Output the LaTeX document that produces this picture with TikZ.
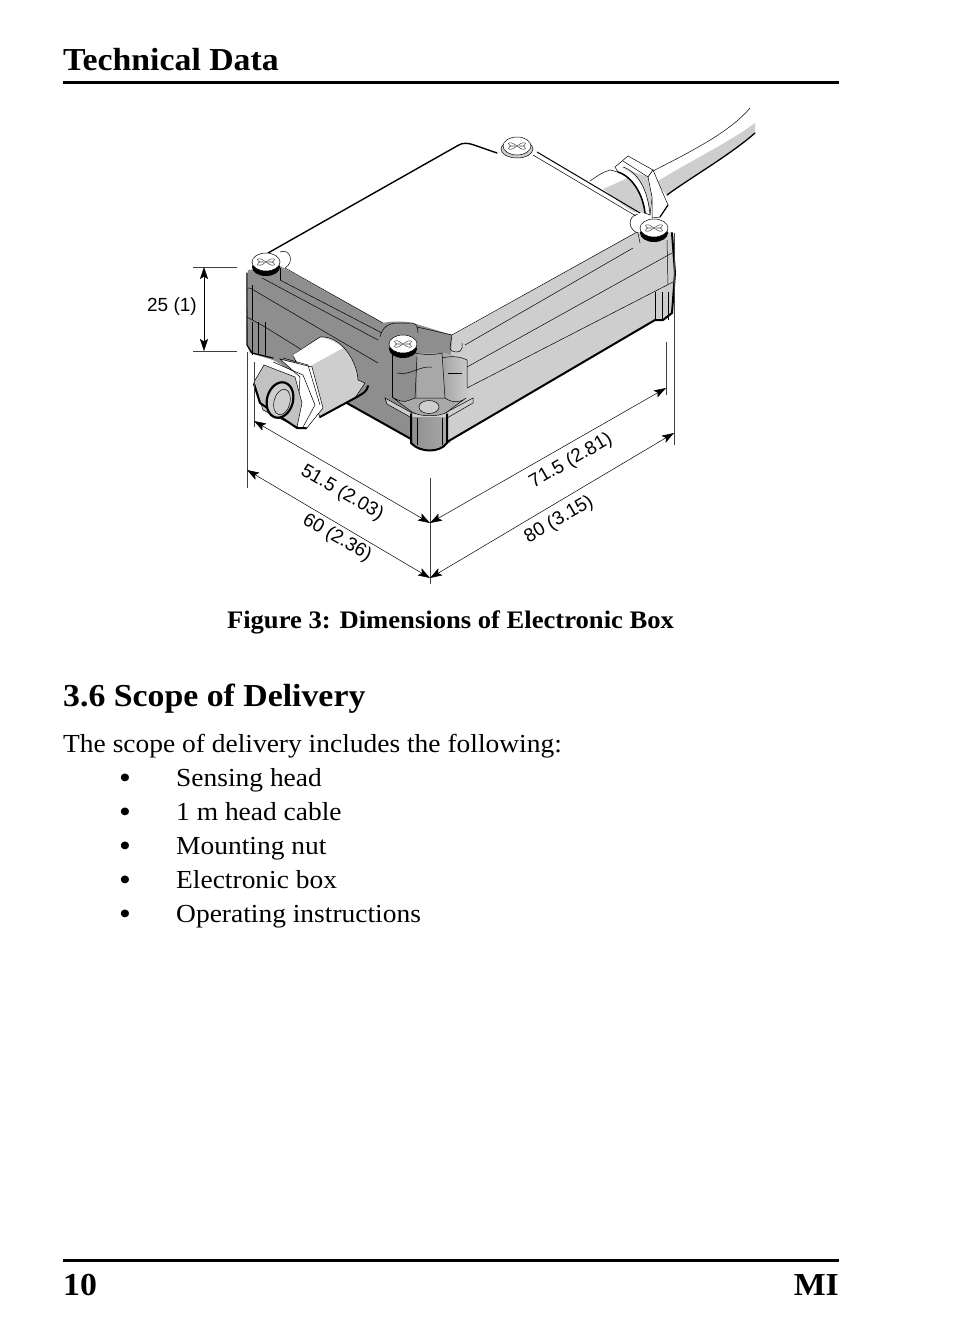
\documentclass[tikz,border=0pt]{standalone}
\usepackage{fontspec}
\setmainfont[FakeStretch=1.056]{Liberation Serif}
\newfontfamily\dimfont{Liberation Sans}
\usetikzlibrary{arrows.meta}
\definecolor{darkface}{HTML}{8E8E8E}
\definecolor{midface}{HTML}{A8A8A8}
\definecolor{lightface}{HTML}{CECECE}
\tikzset{
  thinline/.style={draw=black, line width=0.5pt},
  heavyline/.style={draw=black, line width=2pt, line cap=round, line join=round},
  dimline/.style={draw=black, line width=0.5pt, {Stealth[length=12pt,width=8pt,inset=2.5pt]}-{Stealth[length=12pt,width=8pt,inset=2.5pt]}},
  extline/.style={draw=black!75, line width=0.6pt},
  dimtext/.style={font=\dimfont\fontsize{19}{19}\selectfont, inner sep=0pt},
  pagetext/.style={font=\fontsize{26}{26}\selectfont, anchor=base west, inner sep=0pt},
  headtext/.style={font=\fontsize{32}{32}\selectfont\bfseries, anchor=base west, inner sep=0pt},
  screwtop/.pic={
    \draw[thinline, fill=white] (0,0) ellipse (14 and 9);
    \begin{scope}[yscale=0.68]
      \draw[thinline, draw=black!70] (0,0) .. controls (-10,-12) and (-12,2) .. (-2,0) .. controls (-12,-2) and (-10,12) .. (0,0);
      \draw[thinline, draw=black!70] (0,0) .. controls (10,-12) and (12,2) .. (2,0) .. controls (12,-2) and (10,12) .. (0,0);
    \end{scope}
  },
  screwhead/.pic={
    \fill[black] (0,5) ellipse (14 and 9);
    \pic {screwtop};
  },
  screwflat/.pic={
    \draw[thinline, fill=lightface] (0,3) ellipse (16 and 9);
    \pic {screwtop};
  }
}
\begin{document}
\begin{tikzpicture}[x=1pt,y=-1pt]
\useasboundingbox (0,0) rectangle (954,1323);
\fill[white] (0,0) rectangle (954,1323);

\fill[lightface] (655,183) .. controls (688,162) and (730,142) .. (755,123) -- (755,133) .. controls (730,155) and (690,178) .. (667,195) -- cycle;
\draw[thinline] (653,171) .. controls (690,152) and (730,132) .. (750,108);
\draw[heavyline, line width=1.3pt] (667,195) .. controls (690,178) and (730,155) .. (755,133);

\fill[lightface] (603,189) -- (628,178) -- (640,190) -- (645,213) -- (632,212) -- cycle;
\draw[thinline] (590,181) .. controls (597,176) and (603,172) .. (610,170) -- (618,172);
\draw[thinline, fill=white] (618,172) -- (615,167) -- (628,156) -- (653,170) -- (648,177) -- (652,197) -- (650,215) -- (645,213) .. controls (643,195) and (633,177) .. (618,172) -- cycle;
\fill[lightface] (623,168) .. controls (638,175) and (648,190) .. (649,212) -- (652,197) -- (648,177) -- cycle;
\draw[thinline, fill=white] (648,177) -- (653,170) -- (668,205) -- (660,217) -- (652,218) -- (652,197) -- cycle;
\draw[thinline] (623,161) -- (648,177);
\draw[thinline] (623,167) .. controls (638,172) and (648,190) .. (650,215);
\draw[heavyline, line width=1.5pt] (618,172) .. controls (633,177) and (643,195) .. (645,213);
\draw[heavyline, line width=1.2pt] (668,205) -- (660,217);

\fill[white] (268,253) -- (458,146) -- (497,151) -- (535,154) -- (640,216) -- (637,232) -- (450,337) -- (280,268) -- cycle;
\draw[heavyline, line width=1.4pt] (268,253) -- (457,146) .. controls (463,142) and (468,143) .. (474,145) -- (497,153);
\draw[thinline, line width=1pt] (537,152) -- (640,213);
\draw[thinline] (533,155) -- (636,216);

\fill[darkface] (248,270) -- (280,266) -- (383,323) .. controls (392,321) and (405,321) .. (413,323) -- (452,335) -- (450,443) -- (412,443) -- (412,440) -- (345,402) -- (273,360) -- (263,357) -- (250,353) -- (247,345) -- cycle;
\fill[lightface] (452,336) -- (637,232) -- (672,232) -- (675,273) -- (672,313) -- (663,320) -- (655,320) -- (447,442) -- cycle;
\fill[midface] (417,353) -- (445,353) -- (447,400) -- (417,400) -- cycle;
\shade[left color=midface, right color=lightface] (445,353) -- (467,360) -- (470,398) -- (447,410) -- cycle;

\draw[thinline] (285,268) -- (383,323);
\draw[thinline] (280,280) -- (382,333);
\draw[thinline] (262,278) -- (378,340);
\draw[thinline] (247,288) -- (250,288) -- (378,363);
\draw[thinline] (247,317) -- (265,327) -- (315,358);
\draw[thinline] (252,285) -- (252,320);
\draw[thinline] (280,268) -- (280,280);
\foreach \colx in {252,258,265}{
  \draw[thinline] (\colx,322) -- (\colx,355);
}
\draw[heavyline, line width=1.2pt] (247,273) -- (247,345) -- (252,353) -- (273,358);

\draw[thinline] (452,335) -- (637,232);
\draw[thinline] (465,345) -- (633,248);
\draw[thinline] (467,367) -- (672,253);
\draw[thinline] (467,388) -- (673,282);
\draw[thinline] (667,240) -- (668,285);
\foreach \colx in {655,662,668}{
  \draw[thinline] (\colx,292) -- (\colx,320);
}
\draw[heavyline] (672,233) -- (675,273) -- (672,313) -- (663,320) -- (655,320) -- (447,442);

\draw[thinline] (380,337) .. controls (382,328) and (388,323) .. (397,323) -- (413,323) .. controls (418,325) and (418,330) .. (418,333);
\draw[thinline] (417,327) -- (452,335) -- (450,347) .. controls (450,351) and (453,352) .. (456,352) .. controls (460,352) and (462,350) .. (462,348) -- (462,343);
\draw[thinline] (392,355) -- (392,397);
\draw[thinline] (417,357) -- (415,398);
\draw[thinline] (415,353) .. controls (425,355) and (435,355) .. (442,353) -- (445,398);
\draw[thinline] (442,358) .. controls (450,356) and (460,356) .. (467,360) -- (467,387);
\draw[thinline] (397,373) .. controls (410,376) and (418,366) .. (432,367);
\draw[thinline] (448,373) -- (462,373);

\draw[thinline, fill=lightface] (385,398) -- (412,413) -- (445,413) -- (473,398) -- (473,403) -- (447,418) -- (412,418) -- (387,404) -- cycle;
\draw[thinline, fill=midface] (392,397) .. controls (405,405) and (408,400) .. (415,398) -- (445,398) .. controls (452,403) and (460,403) .. (466,398) -- (447,412) .. controls (440,417) and (420,417) .. (412,412) -- cycle;
\draw[thinline, fill=lightface] (429,407) ellipse (10 and 6.5);
\shade[left color=darkface, right color=midface] (412,417) -- (447,417) -- (447,443) .. controls (440,453) and (420,453) .. (412,443) -- cycle;
\draw[heavyline] (345,402) -- (411,439);
\draw[heavyline] (411,414) -- (411,443) .. controls (420,453) and (440,453) .. (447,443) -- (447,414);
\draw[thinline] (417,418) -- (417,445);
\draw[thinline] (442,418) -- (442,445);

\draw[thinline, fill=lightface] (293,355) -- (320,337) .. controls (340,335) and (357,360) .. (358,380) -- (365,383) -- (355,398) -- (320,417) -- cycle;
\fill[white] (293,355) -- (320,338) .. controls (328,338) and (336,342) .. (343,348) -- (303,370) -- cycle;
\draw[heavyline] (320,417) -- (355,398) .. controls (362,394) and (367,392) .. (368,386);
\draw[thinline, fill=white] (280,359) -- (312,367) -- (323,408) -- (306,429) -- (297,427) -- (300,377) -- cycle;
\draw[thinline] (283,358) -- (308,365) -- (320,405);
\draw[thinline] (273,362) -- (303,375) -- (315,405) -- (303,427);
\draw[thinline, fill=midface!70] (254,382) -- (264,365) -- (295,377) -- (302,403) -- (297,427) -- (263,410) -- cycle;
\draw[heavyline] (254,384) -- (260,403) -- (297,428) -- (306,428);
\draw[heavyline, fill=lightface, line width=2.2pt, rotate around={-15:(280,400)}] (280,400) ellipse (13 and 18);
\draw[thinline, rotate around={-15:(282,402)}] (282,402) ellipse (8 and 13);

\pic (screwa) at (266,262) {screwhead};
\pic (screwb) at (517,146) {screwflat};
\pic (screwc) at (403,344) {screwhead};
\pic (screwd) at (654,228) {screwhead};
\draw[thinline] (280,252) .. controls (290,248) and (295,262) .. (285,268);
\draw[thinline] (638,214) .. controls (627,216) and (628,230) .. (638,233) -- (640,243);

\coordinate (htop) at (193,267);
\coordinate (htopend) at (237,267);
\coordinate (hbot) at (193,351);
\coordinate (hbotend) at (237,351);
\coordinate (htoparrow) at (204,267);
\coordinate (hbotarrow) at (204,351);
\coordinate (extlefta) at (247,352);
\coordinate (extleftb) at (247,488);
\coordinate (extinnera) at (254,362);
\coordinate (extinnerb) at (254,427);
\coordinate (extmida) at (430,478);
\coordinate (extmidb) at (430,584);
\coordinate (extrighta) at (666,342);
\coordinate (extrightb) at (666,395);
\coordinate (extoutera) at (674,233);
\coordinate (extouterb) at (674,445);
\coordinate (inlefttip) at (254,421);
\coordinate (outlefttip) at (247,470);
\coordinate (midupper) at (430,523);
\coordinate (midlower) at (430,578);
\coordinate (inrighttip) at (666,388);
\coordinate (outrighttip) at (674,433);

\draw[extline] (htop) -- (htopend);
\draw[extline] (hbot) -- (hbotend);
\draw[extline] (extlefta) -- (extleftb);
\draw[extline] (extinnera) -- (extinnerb);
\draw[extline] (extmida) -- (extmidb);
\draw[extline] (extrighta) -- (extrightb);
\draw[extline] (extoutera) -- (extouterb);
\draw[dimline] (htoparrow) -- (hbotarrow);
\draw[dimline] (inlefttip) -- (midupper);
\draw[dimline] (outlefttip) -- (midlower);
\draw[dimline] (midupper) -- (inrighttip);
\draw[dimline] (midlower) -- (outrighttip);

\node[dimtext] (dimheight) at (172,307) {25 (1)};
\node[dimtext, rotate=-30] (dimwidthin) at (342,493) {51.5 (2.03)};
\node[dimtext, rotate=-30] (dimwidthout) at (337,538) {60 (2.36)};
\node[dimtext, rotate=30] (dimlenin) at (571,461) {71.5 (2.81)};
\node[dimtext, rotate=30] (dimlenout) at (559,520) {80 (3.15)};

\node[headtext] (title) at (63,70) {Technical Data};
\coordinate (toprulea) at (63,82);
\coordinate (topruleb) at (839,82);
\draw[line width=3pt] (toprulea) -- (topruleb);

\node[font=\fontsize{25.2}{26}\selectfont\bfseries, anchor=base, inner sep=0pt] (caption) at (450.5,628) {Figure 3: Dimensions of Electronic Box};
\node[headtext] (scopehead) at (63,706) {3.6 Scope of Delivery};
\node[pagetext] (intro) at (63,752) {The scope of delivery includes the following:};
\foreach \itemtext [count=\i] in {Sensing head, 1 m head cable, Mounting nut, Electronic box, Operating instructions}{
  \node[pagetext, font=\fontsize{32}{32}\selectfont] (bullet\i) at (119,754.5+34*\i) {•};
  \node[pagetext] (item\i) at (176,752+34*\i) {\itemtext};
}

\coordinate (botrulea) at (63,1260);
\coordinate (botruleb) at (839,1260);
\draw[line width=3pt] (botrulea) -- (botruleb);
\node[headtext] (pagenum) at (63,1295) {10};
\node[headtext, anchor=base east] (pagename) at (839,1295) {MI};
\end{tikzpicture}
\end{document}
